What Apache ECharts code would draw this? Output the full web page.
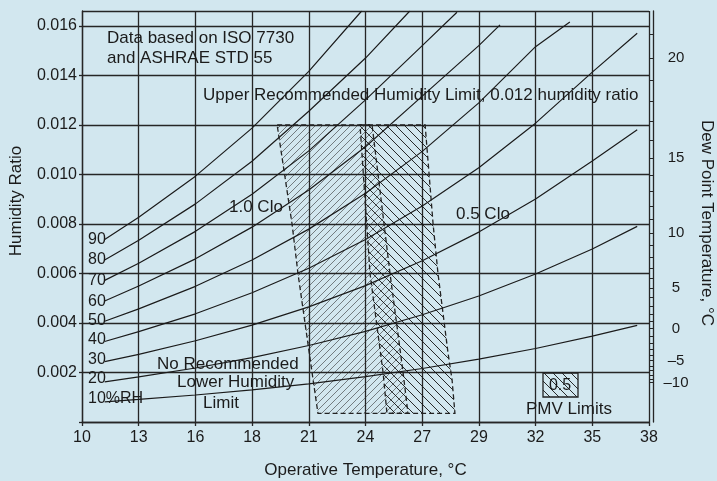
<!DOCTYPE html>
<html>
<head>
<meta charset="utf-8">
<script src="https://cdn.jsdelivr.net/npm/echarts@6/dist/echarts.min.js"></script>
<style>
html,body{margin:0;padding:0;background:#d2e7ef;}
#chart{width:717px;height:481px;}
</style>
</head>
<body>
<div id="chart"></div>
<script>
// ---- axis tick labels ----
const xTickLabels = ['10','13','16','18','21','24','27','29','32','35','38']; // at 50,55,...,100 °F grid
const yTickLabels = ['','0.002','0.004','0.006','0.008','0.010','0.012','0.014','0.016'];
const dewPointLabels = ['20','15','10','5','0','–5','–10'];
const dewPointRatios = [0.0147,0.01065,0.00763,0.0054,0.00378,0.00248,0.0016];
const dewMinorRatios = [0.0016,0.00174,0.0019,0.00208,0.00227,0.00248,0.0027,0.00294,0.00319,0.00347,
  0.00378,0.00406,0.00436,0.00469,0.00503,0.0054,0.0058,0.00621,0.00666,0.00713,0.00763,0.00817,
  0.00873,0.00934,0.00997,0.01065,0.01137,0.01213,0.01294,0.01379,0.0147,0.01566];

// ---- relative humidity curves: [temperature °C, humidity ratio] ----
const rhLabels = ['10%RH','20','30','40','50','60','70','80','90'];
const rh10 = [[11.11,0.00081],[12.78,0.00091],[15.56,0.00109],[18.33,0.0013],[21.11,0.00154],[23.89,0.00183],[26.67,0.00216],[29.44,0.00254],[32.22,0.00297],[35.0,0.00347],[37.2,0.0039]];
const rh20 = [[11.11,0.00162],[12.78,0.00182],[15.56,0.00218],[18.33,0.0026],[21.11,0.00309],[23.89,0.00366],[26.67,0.00433],[29.44,0.00509],[32.22,0.00598],[35.0,0.00699],[37.2,0.0079]];
const rh30 = [[11.11,0.00244],[12.78,0.00273],[15.56,0.00328],[18.33,0.00391],[21.11,0.00465],[23.89,0.00551],[26.67,0.00651],[29.44,0.00767],[32.22,0.00901],[35.0,0.01054],[37.2,0.0118]];
const rh40 = [[11.11,0.00325],[12.78,0.00365],[15.56,0.00437],[18.33,0.00522],[21.11,0.00621],[23.89,0.00737],[26.67,0.00872],[29.44,0.01027],[32.22,0.01207],[35.0,0.01413],[37.2,0.0157]];
const rh50 = [[11.11,0.00407],[12.78,0.00457],[15.56,0.00548],[18.33,0.00654],[21.11,0.00779],[23.89,0.00924],[26.67,0.01093],[29.44,0.01289],[32.22,0.01516],[33.9,0.01616]];
const rh60 = [[11.11,0.00489],[12.78,0.00549],[15.56,0.00659],[18.33,0.00787],[21.11,0.00937],[23.89,0.01112],[26.67,0.01316],[29.44,0.0152],[30.48,0.01604]];
const rh70 = [[11.11,0.00572],[12.78,0.00641],[15.56,0.0077],[18.33,0.0092],[21.11,0.01095],[23.89,0.01301],[26.67,0.0152],[28.37,0.01655]];
const rh80 = [[11.11,0.00654],[12.78,0.00734],[15.56,0.00881],[18.33,0.01053],[21.11,0.01255],[23.89,0.0147],[26.06,0.0166]];
const rh90 = [[11.11,0.00737],[12.78,0.00827],[15.56,0.00993],[18.33,0.01187],[21.11,0.01416],[23.7,0.0166]];
const rhCurves = [rh10,rh20,rh30,rh40,rh50,rh60,rh70,rh80,rh90];

// ---- comfort zones (PMV limits): [temperature °C, humidity ratio] ----
const zoneClo10 = [[19.56,0.012],[24.21,0.012],[25.09,0.006],[25.73,0.002],[25.97,0.00035],[21.56,0.00035],[21.27,0.002],[20.58,0.006],[20.29,0.008]];
const zoneClo05 = [[23.62,0.012],[26.81,0.012],[27.2,0.008],[27.44,0.006],[27.93,0.0028],[28.13,0.0017],[28.27,0.00035],[24.94,0.00035],[24.75,0.002],[24.11,0.006]];

const FONT = '"Liberation Sans", Arial, Helvetica, sans-serif';
const INK = '#1b1b1b';
const cToF = c => c * 1.8 + 32;

function hatch(size, slash, color, width) {
  const c = document.createElement('canvas');
  c.width = size; c.height = size;
  const g = c.getContext('2d');
  g.strokeStyle = color; g.lineWidth = width;
  g.beginPath();
  for (let k = -1; k <= 1; k++) {
    if (slash) { g.moveTo(k*size, size); g.lineTo(k*size + size, 0); }
    else { g.moveTo(k*size, 0); g.lineTo(k*size + size, size); }
  }
  g.stroke();
  return {image: c, repeat: 'repeat'};
}
const pat10 = hatch(7, true, 'rgba(40,40,40,0.7)', 0.8);
const pat05 = hatch(9, false, 'rgba(20,20,20,0.9)', 1);

function zoneSeries(points, pattern) {
  return {
    type: 'custom', coordinateSystem: 'cartesian2d', z: 1, silent: true, clip: true,
    data: [[70, 0.006]],
    renderItem: function (params, api) {
      const pts = points.map(p => api.coord([cToF(p[0]), p[1]]));
      return {type: 'polygon', shape: {points: pts},
        style: {fill: pattern, stroke: '#222', lineWidth: 1.3, lineDash: [5, 3]}};
    }
  };
}

const chart = echarts.init(document.getElementById('chart'), null, {renderer: 'canvas'});

const series = rhCurves.map(c => ({
  type: 'line', data: c.map(p => [cToF(p[0]), p[1]]), showSymbol: false, symbol: 'none',
  smooth: false, z: 3, silent: true,
  lineStyle: {color: INK, width: 1.2}
}));
series.push(zoneSeries(zoneClo10, pat10));
series.push(zoneSeries(zoneClo05, pat05));

const rhLabelY = [399, 379, 360, 340, 321, 302, 281, 260, 240];
const texts = [
  ['Data based on ISO 7730', 107, 38],
  ['and ASHRAE STD 55', 107, 58],
  ['Upper Recommended Humidity Limit, 0.012 humidity ratio', 203, 95],
  ['1.0 Clo', 229, 207],
  ['0.5 Clo', 456, 214],
  ['No Recommended', 157, 364],
  ['Lower Humidity', 177, 382],
  ['Limit', 203, 403],
  ['PMV Limits', 526, 409]
];
const graphic = texts.map(t => ({type: 'text', x: t[1], y: t[2], z: 10, silent: true,
  style: {text: t[0], font: '17px ' + FONT, fill: INK, verticalAlign: 'middle', align: 'left'}}));
rhLabels.forEach((l, i) => graphic.push({type: 'text', x: 88, y: rhLabelY[i], z: 10, silent: true,
  style: {text: l, font: '16px ' + FONT, fill: INK, verticalAlign: 'middle', align: 'left'}}));
graphic.push({type: 'rect', shape: {x: 543, y: 373, width: 35, height: 24}, z: 10, silent: true,
  style: {fill: pat05, stroke: '#222', lineWidth: 1.3}});
graphic.push({type: 'text', x: 560, y: 386, z: 11, silent: true,
  style: {text: '0.5', font: '16px ' + FONT, fill: INK, align: 'center', verticalAlign: 'middle'}});
graphic.push({type: 'text', x: 16, y: 201, rotation: Math.PI / 2, z: 10, silent: true,
  style: {text: 'Humidity Ratio', font: '17px ' + FONT, fill: INK, align: 'center', verticalAlign: 'middle'}});
graphic.push({type: 'text', x: 707, y: 223, rotation: -Math.PI / 2, z: 10, silent: true,
  style: {text: 'Dew Point Temperature, °C', font: '17px ' + FONT, fill: INK, align: 'center', verticalAlign: 'middle'}});

const gridLine = {color: '#262626', width: 1.3};

chart.setOption({
  animation: false,
  backgroundColor: '#d2e7ef',
  textStyle: {fontFamily: FONT},
  grid: {left: 82, right: 68, top: 11, bottom: 59, containLabel: false, outerBoundsMode: 'none'},
  xAxis: {
    type: 'value', min: 50, max: 100, interval: 5,
    axisLine: {show: true, onZero: false, lineStyle: gridLine},
    axisTick: {show: true, length: 4, lineStyle: gridLine},
    axisLabel: {margin: 8, fontSize: 16, color: INK, fontFamily: FONT,
      formatter: v => xTickLabels[Math.round((v - 50) / 5)] || ''},
    splitLine: {show: true, lineStyle: gridLine},
    name: 'Operative Temperature, °C', nameLocation: 'middle', nameGap: 40,
    nameTextStyle: {fontSize: 17, color: INK, fontFamily: FONT}
  },
  yAxis: [
    {
      type: 'value', min: 0, max: 0.0166, interval: 0.002,
      axisLine: {show: true, onZero: false, lineStyle: gridLine},
      axisTick: {show: true, length: 3, lineStyle: gridLine},
      axisLabel: {margin: 5, fontSize: 16, color: INK, fontFamily: FONT, showMaxLabel: false,
        formatter: v => { const i = Math.round(v / 0.002); return Math.abs(v - i * 0.002) < 1e-7 ? (yTickLabels[i] || '') : ''; }},
      splitLine: {show: true, lineStyle: gridLine}
    },
    {
      type: 'value', position: 'right', offset: 4, min: 0, max: 0.0166,
      axisLine: {show: true, onZero: false, lineStyle: gridLine},
      axisTick: {show: true, inside: true, length: 4, customValues: dewMinorRatios, lineStyle: {color: '#262626', width: 1}},
      axisLabel: {customValues: dewPointRatios, margin: 23, align: 'center', fontSize: 15, color: INK, fontFamily: FONT,
        formatter: v => { const i = dewPointRatios.findIndex(r => Math.abs(r - v) < 1e-7); return i >= 0 ? dewPointLabels[i] : ''; }},
      splitLine: {show: false}
    }
  ],
  series: series,
  graphic: graphic
});
</script>
</body>
</html>
